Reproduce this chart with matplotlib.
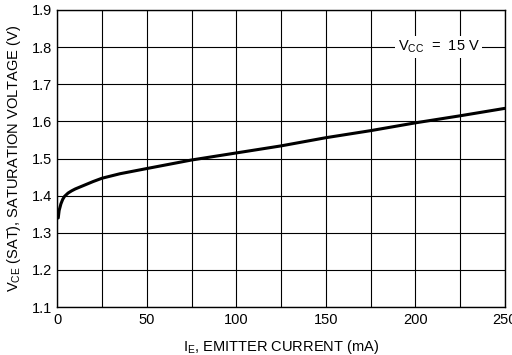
# Saturation voltage vs. emitter current, re-drawn from a datasheet plot.

import matplotlib
matplotlib.use("Agg")
import matplotlib.pyplot as plt
import numpy as np

EMITTER_CURRENT_MA = [0.5, 1, 2, 3, 4, 6, 8, 10, 15, 20, 25, 35, 50, 75, 100, 125, 150, 175, 200, 225, 250]
VCE_SAT_V = [1.340, 1.360, 1.378, 1.390, 1.398, 1.407, 1.413, 1.418, 1.428, 1.438, 1.447, 1.459, 1.473, 1.496, 1.515, 1.534, 1.556, 1.575, 1.596, 1.615, 1.635]

X_TICKS = [0, 50, 100, 150, 200, 250]
X_GRID = np.arange(0, 251, 25)
Y_TICKS = [1.1, 1.2, 1.3, 1.4, 1.5, 1.6, 1.7, 1.8, 1.9]

plt.rcParams["font.family"] = ["Liberation Sans", "DejaVu Sans"]
plt.rcParams["mathtext.fontset"] = "custom"
plt.rcParams["mathtext.rm"] = "Liberation Sans"

fig = plt.figure(figsize=(5.12, 3.55), dpi=100)
ax = fig.add_axes([0.112, 0.135, 0.874, 0.837])

ax.plot(EMITTER_CURRENT_MA, VCE_SAT_V, color="black", linewidth=2.2, solid_capstyle="round")

ax.set_xlim(0, 250)
ax.set_ylim(1.1, 1.9)
ax.set_xticks(X_TICKS)
ax.set_xticks(X_GRID, minor=True)
ax.set_yticks(Y_TICKS)
ax.set_yticklabels([f"{v:.1f}" for v in Y_TICKS])
ax.tick_params(which="both", length=0, labelsize=10.5, pad=4)
ax.grid(which="both", axis="x", color="black", linewidth=0.8)
ax.grid(which="major", axis="y", color="black", linewidth=0.8)
for spine in ax.spines.values():
    spine.set_linewidth(1.0)

ax.text(213, 1.8, r"V$_{\rm CC}$  =  15 V", fontsize=10.5, ha="center", va="center",
        bbox=dict(facecolor="white", edgecolor="none", pad=2))

ax.set_xlabel(r"I$_{\rm E}$, EMITTER CURRENT (mA)", fontsize=10.5, labelpad=8)
ax.set_ylabel(r"V$_{\rm CE}$ (SAT), SATURATION VOLTAGE (V)", fontsize=10.5, labelpad=6)

fig.savefig("out.png", dpi=100)
